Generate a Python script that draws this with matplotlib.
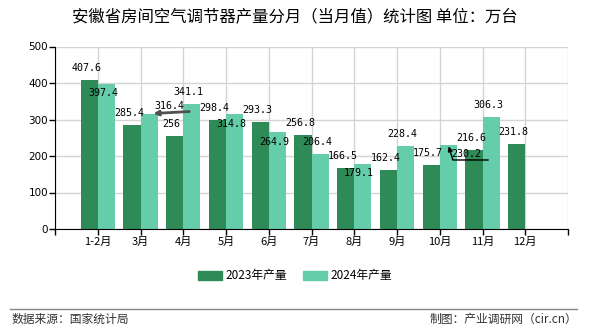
import numpy as np
import matplotlib.pyplot as plt

plt.rcParams['font.family'] = ['Noto Sans CJK SC', 'DejaVu Sans']

months = ["1-2月", "3月", "4月", "5月", "6月", "7月", "8月", "9月", "10月", "11月", "12月"]
prod_2023 = [407.6, 285.4, 256, 298.4, 293.3, 256.8, 166.5, 162.4, 175.7, 216.6, 231.8]
prod_2024 = [397.4, 316.4, 341.1, 314.8, 264.9, 206.4, 179.1, 228.4, 230.2, 306.3, None]
labels_2023 = ["407.6", "285.4", "256", "298.4", "293.3", "256.8", "166.5", "162.4", "175.7", "216.6", "231.8"]
labels_2024 = ["397.4", "316.4", "341.1", "314.8", "264.9", "206.4", "179.1", "228.4", "230.2", "306.3", None]

c23 = "#2e8b57"
c24 = "#66cdaa"

W, H = 590, 330
fig = plt.figure(figsize=(W / 100, H / 100), dpi=100)
ax = fig.add_axes([55 / W, 1 - 229 / H, (568 - 55) / W, (229 - 46.5) / H])

x = np.arange(len(months))
bw = 0.4
v24 = [np.nan if v is None else v for v in prod_2024]
ax.bar(x - bw / 2, prod_2023, bw, color=c23, zorder=2)
ax.bar(x + bw / 2, v24, bw, color=c24, zorder=2)

ax.set_xlim(-1, 11)
ax.set_ylim(0, 500)
ax.set_yticks(range(0, 501, 100))
ax.set_xticks(range(-1, 12))
ax.set_xticklabels([""] + months + [""])
ax.grid(True, color="#d4d4d4", linewidth=1, zorder=0)
for s in ["top", "right"]:
    ax.spines[s].set_visible(False)
for s in ["left", "bottom"]:
    ax.spines[s].set_color("black")
ax.tick_params(axis="both", direction="out", length=4, width=1, colors="black")
ax.tick_params(axis="x", labelsize=8, pad=2)
ax.tick_params(axis="y", labelsize=7.5, pad=1)
for t in ax.get_yticklabels():
    t.set_family("DejaVu Sans")

# label offsets in pixels (default: above bar)
off23 = {}
off24 = {0: (-3, -9), 3: (-3, -10), 4: (-3, -10), 6: (-4, -9), 1: (20, 8), 8: (18, -9)}
mono = dict(fontsize=7.2, family="DejaVu Sans Mono", ha="center", va="center", zorder=4)

for i, (v, lab) in enumerate(zip(prod_2023, labels_2023)):
    dx, dy = off23.get(i, (-3, 12))
    ax.annotate(lab, (i - bw / 2, v), xytext=(dx, dy), textcoords="offset pixels", **mono)
for i, (v, lab) in enumerate(zip(prod_2024, labels_2024)):
    if v is None:
        continue
    dx, dy = off24.get(i, (-3, 12))
    ax.annotate(lab, (i + bw / 2, v), xytext=(dx, dy), textcoords="offset pixels", **mono)

# leader lines for shifted labels
ax.annotate("", (1 + bw / 2 + 0.1, prod_2024[1]), xytext=(36, 2), textcoords="offset pixels",
            arrowprops=dict(arrowstyle="-|>", color="#505050", lw=2, mutation_scale=7,
                            shrinkA=0, shrinkB=0), zorder=4)
ax.annotate("", (8 + bw / 2, prod_2024[8]), xytext=(40, -15), textcoords="offset pixels",
            arrowprops=dict(arrowstyle="-|>", color="black", lw=1, mutation_scale=7,
                            shrinkA=0, shrinkB=1,
                            connectionstyle="angle,angleA=0,angleB=107,rad=0"), zorder=4)

fig.text(0.5, 1 - 17 / H, "安徽省房间空气调节器产量分月（当月值）统计图 单位：万台",
         ha="center", va="center", fontsize=11.8)

handles = [plt.Rectangle((0, 0), 1, 1, color=c23), plt.Rectangle((0, 0), 1, 1, color=c24)]
fig.legend(handles, ["2023年产量", "2024年产量"], loc="center", bbox_to_anchor=(0.5, 1 - 276 / H),
           ncol=2, frameon=False, fontsize=8.5, handlelength=2.0, handleheight=0.8,
           handletextpad=0.3, columnspacing=1.4)

fig.add_artist(plt.Line2D([10 / W, 577 / W], [1 - 309 / H, 1 - 309 / H], color="#888888", lw=1))
fig.text(12 / W, 1 - 319 / H, "数据来源：国家统计局", ha="left", va="center", fontsize=8.5, color="#333333")
fig.text(577 / W, 1 - 319 / H, "制图：产业调研网（cir.cn）", ha="right", va="center", fontsize=8.5, color="#333333")

fig.savefig("out.png", dpi=100)
